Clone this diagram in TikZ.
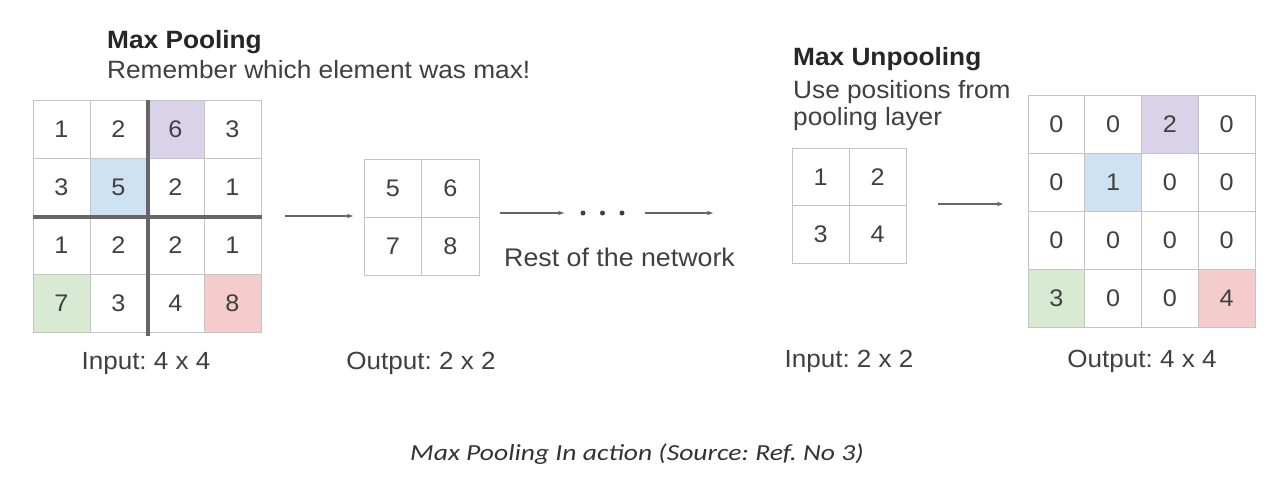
\documentclass[tikz,border=0pt]{standalone}
\usepackage{fontspec}
\setmainfont{Liberation Sans}[FakeStretch=1.05]
\newfontfamily\capfont{Carlito}[FakeStretch=1.2]
\usetikzlibrary{arrows.meta}
\definecolor{cw}{HTML}{FFFFFF}
\definecolor{cp}{HTML}{D9D2E9}
\definecolor{cb}{HTML}{CFE2F3}
\definecolor{cg}{HTML}{D9EAD3}
\definecolor{cr}{HTML}{F4CCCC}
\definecolor{gridc}{HTML}{C4C4C4}
\definecolor{txt}{HTML}{404040}
\frenchspacing
\tikzset{
  cell/.style={draw=gridc, line width=1pt, inner sep=0pt, text=txt,
    font=\fontsize{24}{28}\selectfont},
  thickline/.style={draw=black!60, line width=4pt},
  arr/.style={draw=black!60, line width=1.1pt, -{Stealth[length=6pt,width=4.5pt]}},
  title/.style={anchor=base west, inner sep=0pt, text=black!85, font=\bfseries\fontsize{25}{30}\selectfont},
  sub/.style={anchor=base west, inner sep=0pt, text=txt, font=\fontsize{25}{30}\selectfont},
  lab/.style={anchor=base, inner sep=0pt, text=txt, font=\fontsize{24.8}{30}\selectfont},
  dot/.style={circle, fill=black!75, inner sep=0pt, minimum size=5pt},
}
\begin{document}
\begin{tikzpicture}[x=1pt, y=-1pt]
\useasboundingbox[fill=white] (0,0) rectangle (1288,482);

% Max pooling input 4x4
\foreach \row [count=\r from 0] in {{1/cw,2/cw,6/cp,3/cw},{3/cw,5/cb,2/cw,1/cw},{1/cw,2/cw,2/cw,1/cw},{7/cg,3/cw,4/cw,8/cr}} {
  \foreach \v/\f [count=\c from 0] in \row {
    \node[cell, fill=\f, minimum width=57pt, minimum height=58pt] (L-\r-\c) at ({61.5+57*\c},{129+58*\r}) {\v};
  }
}
\coordinate (Lvb) at (147.5,336);
\draw[thickline] (L-0-1.north east) -- (L-3-1.south east |- Lvb);
\draw[thickline] (L-1-0.south west) -- (L-1-3.south east);

% Pooled output 2x2
\foreach \row [count=\r from 0] in {{5,6},{7,8}} {
  \foreach \v [count=\c from 0] in \row {
    \node[cell, minimum width=57.5pt, minimum height=58pt] (P-\r-\c) at ({393+57.5*\c},{188+58*\r}) {\v};
  }
}

% Unpool input 2x2
\foreach \row [count=\r from 0] in {{1,2},{3,4}} {
  \foreach \v [count=\c from 0] in \row {
    \node[cell, minimum width=57pt, minimum height=57.5pt] (U-\r-\c) at ({820.5+57*\c},{177+57.5*\r}) {\v};
  }
}

% Unpool output 4x4
\foreach \row [count=\r from 0] in {{0/cw,0/cw,2/cp,0/cw},{0/cw,1/cb,0/cw,0/cw},{0/cw,0/cw,0/cw,0/cw},{3/cg,0/cw,0/cw,4/cr}} {
  \foreach \v/\f [count=\c from 0] in \row {
    \node[cell, fill=\f, minimum width=56.75pt, minimum height=58pt] (R-\r-\c) at ({1056.4+56.75*\c},{124+58*\r}) {\v};
  }
}

% Arrows
\coordinate (a1s) at (285,216);
\coordinate (a1e) at (353,216);
\coordinate (a2s) at (500,213);
\coordinate (a2e) at (564,213);
\coordinate (a3s) at (645,213);
\coordinate (a3e) at (713,213);
\coordinate (a4s) at (938,204);
\coordinate (a4e) at (1003,204);
\draw[arr] (a1s) -- (a1e);
\draw[arr] (a2s) -- (a2e);
\draw[arr] (a3s) -- (a3e);
\draw[arr] (a4s) -- (a4e);
\node[dot] (d1) at (583,213) {};
\node[dot] (d2) at (602.5,213) {};
\node[dot] (d3) at (622,213) {};

% Texts
\node[title] (t1) at (107,48) {Max Pooling};
\node[sub] (s1) at (107,78) {Remember which element was max!};
\node[title] (t2) at (793,65) {Max Unpooling};
\node[sub] (s2) at (793,98) {Use positions from};
\node[sub] (s3) at (793,125) {pooling layer};
\node[sub, font=\fontsize{25.5}{30}\selectfont] (rest) at (504,266) {Rest of the network};
\node[lab] (l1) at (146,369) {Input: 4 x 4};
\node[lab] (l2) at (421,369) {Output: 2 x 2};
\node[lab] (l3) at (849,367) {Input: 2 x 2};
\node[lab] (l4) at (1142,367) {Output: 4 x 4};
\node[anchor=base, inner sep=0pt, text=black!80, font=\capfont\itshape\fontsize{23}{27}\selectfont] (cap) at (637,460) {Max Pooling In action (Source: Ref. No 3)};
\end{tikzpicture}
\end{document}
